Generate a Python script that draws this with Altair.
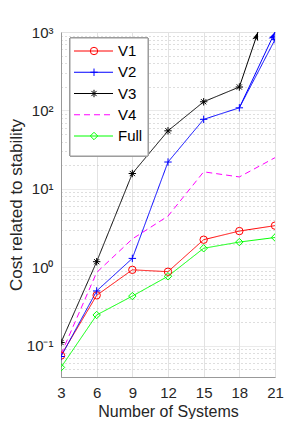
import math
import altair as alt
import pandas as pd

systems = [3, 6, 9, 12, 15, 18, 21]
v1 = [0.075, 0.44, 0.93, 0.88, 2.25, 2.9, 3.4]
v2 = [0.073, 0.50, 1.3, 22, 77, 108, 800]
v3 = [0.11, 1.18, 15.7, 55, 129, 199]
v4 = [0.078, 0.86, 2.3, 4.5, 16.5, 14.2, 25]
full = [0.053, 0.247, 0.43, 0.77, 1.75, 2.1, 2.4]

series = ["V1", "V2", "V3", "V4", "Full"]
colors = ["#ff0000", "#0000ff", "#000000", "#ff00ff", "#00ff00"]
shapes = ["circle", "M-1,0L1,0M0,-1L0,1",
          "M-1,0L1,0M0,-1L0,1M-0.7,-0.7L0.7,0.7M-0.7,0.7L0.7,-0.7",
          "circle", "diamond"]
dashes = [[1, 0], [1, 0], [1, 0], [6, 4], [1, 0]]
has_marker = [True, True, True, False, True]

# arrows showing values going off the chart
arrow_series = ["V3", "V2"]
arrow_x0 = [18, 18]
arrow_y0 = [199, 108]
arrow_x1 = [19.57, 21]
arrow_y1 = [1000, 1000]

W, H = 214, 345
XMIN, XMAX = 3, 21
YMIN, YMAX = 0.04, 1000

rows = []
for name, vals in zip(series, [v1, v2, v3, v4, full]):
    for i, v in enumerate(vals):
        rows.append({"x": systems[i], "y": v, "series": name})
df = pd.DataFrame(rows)
pts = df[df["series"].isin([s for s, m in zip(series, has_marker) if m])]

def px(x):
    return (x - XMIN) / (XMAX - XMIN) * W

def py(y):
    return (math.log10(YMAX) - math.log10(y)) / (math.log10(YMAX) - math.log10(YMIN)) * H

arr = []
for s, a, b, c, d in zip(arrow_series, arrow_x0, arrow_y0, arrow_x1, arrow_y1):
    dx = px(c) - px(a)
    dy = py(d) - py(b)
    ang = math.degrees(math.atan2(dx, -dy)) % 360
    arr.append({"series": s, "x0": a, "y0": b, "x1": c, "y1": d, "angle": ang})
adf = pd.DataFrame(arr)

color = alt.Color("series:N", scale=alt.Scale(domain=series, range=colors), legend=None)
shape = alt.Shape("series:N", scale=alt.Scale(domain=series, range=shapes), legend=None)
dash = alt.StrokeDash("series:N", scale=alt.Scale(domain=series, range=dashes), legend=None)

yvals = []
for k in range(-2, 3):
    for d in range(1, 10):
        v = d * 10 ** k
        if v >= YMIN - 1e-9:
            yvals.append(round(v, 6))
yvals.append(1000)

is_dec = "abs(log(datum.value)/LN10 - round(log(datum.value)/LN10)) < 0.001"
label_expr = (is_dec + " ? (datum.value >= 999 ? '10³' : datum.value >= 99 ? '10²' : "
              "datum.value >= 9 ? '10¹' : datum.value >= 0.9 ? '10⁰' : '10⁻¹') : ''")

xscale = alt.Scale(domain=[XMIN, XMAX], nice=False, zero=False)
yscale = alt.Scale(type="log", domain=[YMIN, YMAX], nice=False)

xenc = alt.X("x:Q", scale=xscale, axis=alt.Axis(
    values=systems, tickCount=50, format="d", title="Number of Systems", grid=True,
    gridColor="#e2e2e2",
    ticks=False, labelPadding=8, labelFontSize=15, titleFontSize=16,
    titleX=W / 2, titleY=34, titleBaseline="middle", titleAlign="center",
    titleFontWeight="normal", labelColor="#262626", titleColor="#262626",
    domainColor="#999999", labelOverlap=False, labelFlush=False))
yenc = alt.Y("y:Q", scale=yscale, axis=alt.Axis(
    values=yvals, tickCount=100, labelExpr=label_expr, title="Cost related to stability",
    grid=True,
    gridDash={"condition": {"test": is_dec, "value": [1, 0]}, "value": [1, 3]},
    gridColor={"condition": {"test": is_dec, "value": "#e2e2e2"}, "value": "#bdbdbd"},
    ticks=False, labelPadding=8, labelFontSize=15, titleFontSize=17,
    titleX=-45, titleY=H / 2, titleAngle=-90, titleBaseline="middle", titleAlign="center",
    titleFontWeight="normal", labelColor="#262626", titleColor="#262626",
    domainColor="#999999", labelOverlap=False, labelBound=False))

base = alt.Chart(df)
lines = base.mark_line(strokeWidth=1, clip=True).encode(
    x=xenc, y=yenc, color=color, strokeDash=dash, detail="series:N")
points = alt.Chart(pts).mark_point(filled=False, strokeWidth=1, size=55, opacity=1, clip=True).encode(
    x="x:Q", y="y:Q", color=color, shape=shape)
arrow_lines = alt.Chart(adf).mark_rule(strokeWidth=1).encode(
    x="x0:Q", y="y0:Q", x2="x1", y2="y1", color=color)
arrow_heads = alt.Chart(adf).mark_point(
    shape="M0,0L0.45,1.3L0,1L-0.45,1.3Z", filled=True, size=180, opacity=1).encode(
    x="x1:Q", y="y1:Q", angle=alt.Angle("angle:Q", scale=None), color=color)

main = alt.layer(lines, points, arrow_lines, arrow_heads)

leg_df = pd.DataFrame({"series": series, "marker": has_marker})
ly = alt.Y("series:N", scale=alt.Scale(type="point", domain=series, range=[19, 104], padding=0), axis=None)
box = alt.Chart(leg_df).mark_rect(fill="white", stroke="#999999", strokeWidth=1).encode(
    x=alt.value(9), x2=alt.value(87), y=alt.value(6), y2=alt.value(124))
leg_lines = alt.Chart(leg_df).mark_rule(strokeWidth=1).encode(
    x=alt.value(13), x2=alt.value(52), y=ly, color=color, strokeDash=dash)
leg_pts = alt.Chart(leg_df).transform_filter("datum.marker").mark_point(
    filled=False, strokeWidth=1, size=55, opacity=1).encode(
    x=alt.value(33), y=ly, color=color, shape=shape)
leg_txt = alt.Chart(leg_df).mark_text(align="left", baseline="middle", fontSize=15,
                                     font="Liberation Sans", color="#000000").encode(
    x=alt.value(57), y=ly, text="series:N")
legend = alt.layer(box, leg_lines, leg_pts, leg_txt)

chart = alt.layer(main, legend).resolve_scale(y="independent").properties(
    width=W, height=H,
    autosize=alt.AutoSizeParams(type="none"),
    padding={"left": 53, "top": 24, "right": 21, "bottom": 42},
).configure_view(stroke="#999999", strokeWidth=1).configure(
    font="Liberation Sans").configure_axis(labelFont="Liberation Sans", titleFont="Liberation Sans")

chart.save("out.html", embed_options={"renderer": "svg", "actions": False})
